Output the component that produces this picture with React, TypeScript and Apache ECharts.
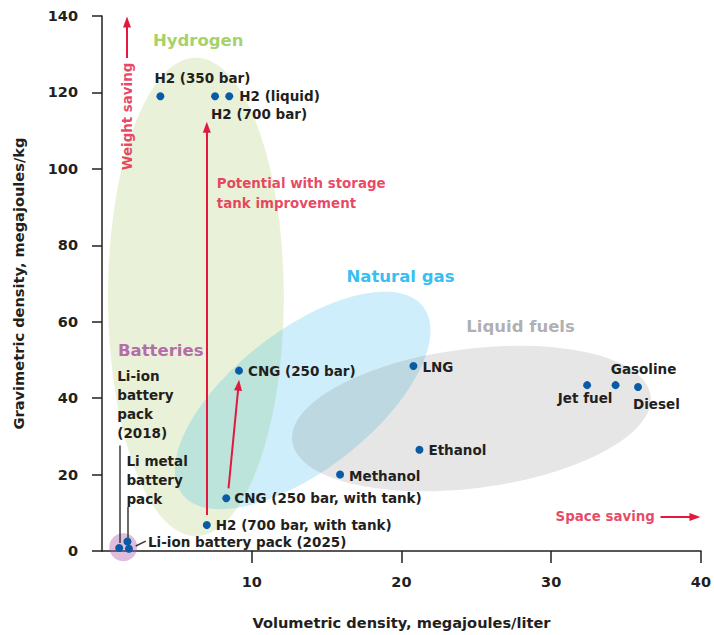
import React, { useEffect, useRef } from "react";
import * as echarts from "echarts";

// ---------- data ----------
const fuelLabels = [
  "H2 (350 bar)",
  "H2 (700 bar)",
  "H2 (liquid)",
  "CNG (250 bar)",
  "CNG (250 bar, with tank)",
  "H2 (700 bar, with tank)",
  "Li-ion\nbattery\npack\n(2018)",
  "Li metal\nbattery\npack",
  "Li-ion battery pack (2025)",
  "LNG",
  "Ethanol",
  "Methanol",
  "Jet fuel",
  "Gasoline",
  "Diesel",
];
const volumetric = [3.9, 7.55, 8.5, 9.15, 8.3, 7.0, 1.15, 1.7, 1.8, 20.8, 21.2, 15.9, 32.4, 34.3, 35.8];
const gravimetric = [119, 119, 119, 47.2, 13.8, 6.8, 0.8, 2.5, 0.6, 48.4, 26.5, 20, 43.4, 43.4, 42.9];

const regionNames = ["Hydrogen", "Natural gas", "Liquid fuels", "Batteries"];
const regionCenterX = [6.27, 13.4, 24.67, 1.42];
const regionCenterY = [66.5, 39.4, 34.67, 1.0];
const regionAxisU = [[5.87, 0], [8.04, 24.56], [11.97, 5.95], [0.93, 0]];
const regionAxisV = [[0, 62.6], [2.87, -14.39], [0.59, -18.09], [0, 3.65]];
const regionLabelX = [3.4, 16.33, 24.33, 1.07];
const regionLabelY = [133.5, 71.95, 58.65, 52.4];

const xTicks = [10, 20, 30, 40];

const redArrows = [
  [[1.67, 129], [1.67, 138.4]],
  [[7.0, 9.4], [7.0, 110.9]],
  [[8.45, 16.4], [9.12, 43.4]],
  [[37.3, 8.9], [39.6, 8.9]],
];
const leaderLines = [
  [[1.2, 27.6], [1.2, 2.1]],
  [[1.75, 11.5], [1.75, 3.2]],
  [[2.25, 1.3], [2.93, 2.6]],
];
const redNotes = ["Weight saving", "Potential with storage\ntank improvement", "Space saving"];
const redNoteX = [1.67, 7.67, 36.93];
const redNoteY = [113.7, 93.6, 9.1];

// ---------- styles ----------
const FONT = "DejaVu Sans";
const INK = "#231F20";
const RED = "#E4173E";
const DOT = "#0A5BA5";
const CLEAR = "rgba(0,0,0,0)";
const regionFill = [
  "rgba(157,196,77,0.22)",
  "rgba(26,176,232,0.22)",
  "rgba(138,138,138,0.21)",
  "rgba(176,90,168,0.4)",
];
const regionLabelColor = ["#8DC63F", "#00AEEF", "#9A9B9E", "#A6489B"];

type LabelLayout = { align: string; offset: number[] };
const fuelLabelLayout: LabelLayout[] = [
  { align: "left", offset: [-6, -18] },
  { align: "left", offset: [-4, 18] },
  { align: "left", offset: [10, 0] },
  { align: "left", offset: [9, 0] },
  { align: "left", offset: [8, 0] },
  { align: "left", offset: [9, 0] },
  { align: "left", offset: [-2, -143] },
  { align: "left", offset: [-1, -61] },
  { align: "left", offset: [19, -7] },
  { align: "left", offset: [9, 1] },
  { align: "left", offset: [9, 0] },
  { align: "left", offset: [9, 1] },
  { align: "center", offset: [-2, 13] },
  { align: "center", offset: [28, -16] },
  { align: "left", offset: [-5, 17] },
];
const redNoteLayout = [
  { align: "center", rotate: 90 },
  { align: "left", rotate: 0 },
  { align: "right", rotate: 0 },
];

export default function App() {
  const ref = useRef<HTMLDivElement>(null);

  useEffect(() => {
    if (!ref.current) return;
    const chart = echarts.init(ref.current, null, { renderer: "svg" });

    const ellipseData = regionNames.map((n, i) => ({ name: n, value: [regionCenterX[i], regionCenterY[i]] }));

    const option: any = {
      animation: false,
      textStyle: { fontFamily: FONT },
      grid: { left: 102, right: 12, top: 16, bottom: 82 },
      xAxis: {
        type: "value",
        min: 0,
        max: 40,
        interval: 10,
        name: "Volumetric density, megajoules/liter",
        nameLocation: "middle",
        nameGap: 64,
        nameTextStyle: { fontFamily: FONT, fontSize: 14.6, fontWeight: "bold", color: INK },
        axisLine: { lineStyle: { color: INK, width: 1.5 } },
        axisTick: { show: true, length: 12, customValues: xTicks, lineStyle: { color: INK, width: 1.5 } },
        axisLabel: {
          customValues: xTicks,
          fontFamily: FONT,
          fontSize: 14.5,
          fontWeight: "bold",
          color: INK,
          margin: 23,
        },
        splitLine: { show: false },
      },
      yAxis: {
        type: "value",
        min: 0,
        max: 140,
        interval: 20,
        name: "Gravimetric density, megajoules/kg",
        nameLocation: "middle",
        nameGap: 76,
        nameTextStyle: { fontFamily: FONT, fontSize: 14.6, fontWeight: "bold", color: INK },
        axisLine: { show: true, lineStyle: { color: INK, width: 1.5 } },
        axisTick: { show: true, length: 10, lineStyle: { color: INK, width: 1.5 } },
        axisLabel: { fontFamily: FONT, fontSize: 14.5, fontWeight: "bold", color: INK, margin: 24 },
        splitLine: { show: false },
      },
      series: [
        {
          type: "custom",
          name: "regions",
          z: 1,
          silent: true,
          clip: false,
          data: ellipseData,
          renderItem: (params: any, api: any) => {
            const i = params.dataIndex;
            const cx = regionCenterX[i];
            const cy = regionCenterY[i];
            const u = regionAxisU[i];
            const v = regionAxisV[i];
            const pts: number[][] = [];
            const N = 120;
            for (let k = 0; k < N; k++) {
              const t = (k / N) * Math.PI * 2;
              pts.push(
                api.coord([
                  cx + u[0] * Math.cos(t) + v[0] * Math.sin(t),
                  cy + u[1] * Math.cos(t) + v[1] * Math.sin(t),
                ])
              );
            }
            return {
              type: "polygon",
              shape: { points: pts, smooth: 0 },
              style: { fill: regionFill[i], stroke: "none" },
            };
          },
        },
        {
          type: "scatter",
          name: "regionLabels",
          z: 5,
          silent: true,
          symbol: "circle",
          symbolSize: 1,
          itemStyle: { color: CLEAR },
          data: regionNames.map((n, i) => ({
            name: n,
            value: [regionLabelX[i], regionLabelY[i]],
            label: { color: regionLabelColor[i] },
          })),
          label: {
            show: true,
            position: "inside",
            align: "left",
            verticalAlign: "middle",
            formatter: (p: any) => p.name,
            fontFamily: FONT,
            fontSize: 16.5,
            fontWeight: "bold",
          },
        },
        {
          type: "scatter",
          name: "arrows",
          z: 3,
          silent: true,
          data: [],
          markLine: {
            silent: true,
            animation: false,
            symbol: ["none", "triangle"],
            symbolSize: [8, 11],
            label: { show: false },
            lineStyle: { color: RED, width: 2, type: "solid" },
            data: redArrows.map((a) => [{ coord: a[0] }, { coord: a[1] }]),
          },
        },
        {
          type: "scatter",
          name: "leaders",
          z: 3,
          silent: true,
          data: [],
          markLine: {
            silent: true,
            animation: false,
            symbol: ["none", "none"],
            label: { show: false },
            lineStyle: { color: "#3a3a3a", width: 1.5, type: "solid" },
            data: leaderLines.map((a) => [{ coord: a[0] }, { coord: a[1] }]),
          },
        },
        {
          type: "scatter",
          name: "redNotes",
          z: 5,
          silent: true,
          symbol: "circle",
          symbolSize: 1,
          itemStyle: { color: CLEAR },
          data: redNotes.map((n, i) => ({
            name: n,
            value: [redNoteX[i], redNoteY[i]],
            label: { align: redNoteLayout[i].align, rotate: redNoteLayout[i].rotate },
          })),
          label: {
            show: true,
            position: "inside",
            verticalAlign: "middle",
            formatter: (p: any) => p.name,
            fontFamily: FONT,
            fontSize: 13.4,
            fontWeight: "bold",
            lineHeight: 20,
            color: RED,
          },
        },
        {
          type: "scatter",
          name: "fuels",
          z: 6,
          symbolSize: 8,
          itemStyle: { color: DOT, opacity: 1 },
          data: fuelLabels.map((n, i) => ({
            name: n,
            value: [volumetric[i], gravimetric[i]],
            label: { align: fuelLabelLayout[i].align, offset: fuelLabelLayout[i].offset },
          })),
          label: {
            show: true,
            position: "inside",
            verticalAlign: "middle",
            formatter: (p: any) => p.name,
            fontFamily: FONT,
            fontSize: 13.5,
            fontWeight: "bold",
            lineHeight: 19,
            color: INK,
          },
        },
      ],
    };

    chart.setOption(option);
    return () => chart.dispose();
  }, []);

  return (
    <div
      ref={ref}
      style={{ position: "absolute", left: 0, top: 0, width: 714, height: 635, background: "#fff" }}
    />
  );
}
